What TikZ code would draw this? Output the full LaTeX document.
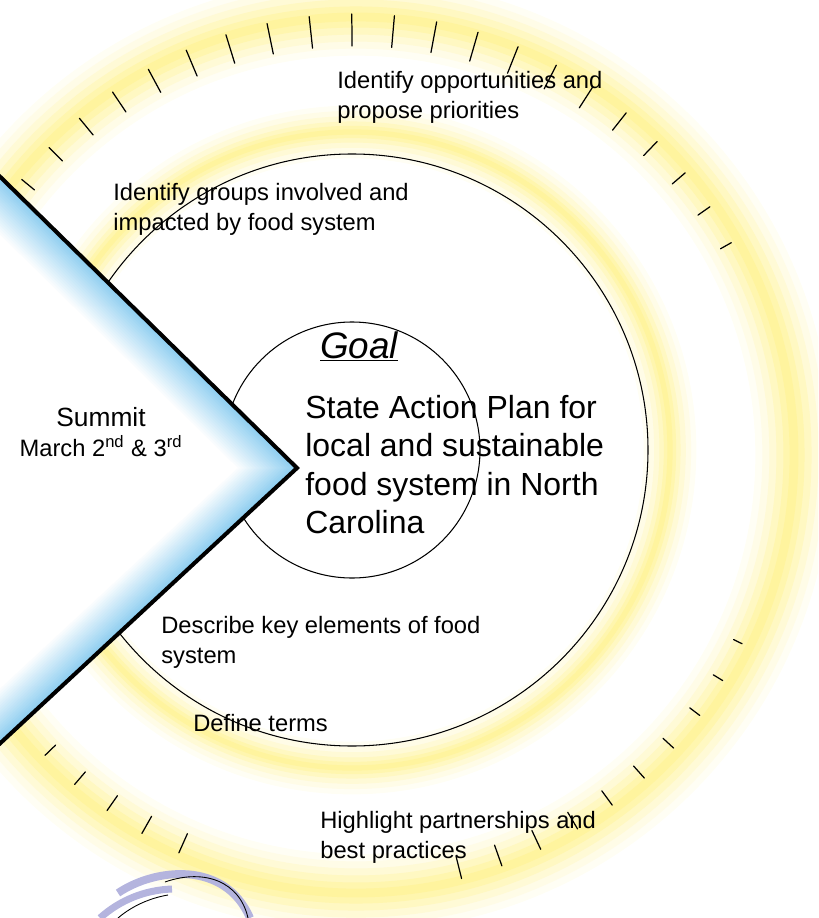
\documentclass[tikz,border=0pt]{standalone}
\usepackage{fontspec}
\setmainfont{Liberation Sans}
\usetikzlibrary{calc}

\definecolor{glow}{RGB}{255,240,120}
\definecolor{chevblue}{RGB}{140,205,240}
\definecolor{lavender}{RGB}{180,180,222}

\tikzset{
  ring/.style={draw=black, line width=0.6pt},
  tick/.style={line width=0.7pt, line cap=round},
  chevline/.style={line width=2.3pt, line join=miter},
  smalltxt/.style={font=\fontsize{13.5}{17}\selectfont, align=left, anchor=north west, inner sep=0pt},
  bigtxt/.style={font=\fontsize{18.2}{21.8}\selectfont, align=left, anchor=north west, inner sep=0pt},
}

\begin{document}
\begin{tikzpicture}[x=0.02cm,y=0.02cm]
\useasboundingbox (0,0) rectangle (818,-918);
\clip (0,0) rectangle (818,-918);
\coordinate (ctr) at (356,-455);
\coordinate (mid) at (352,-450);

% outer glow and its ticks
\foreach \w/\p in {44pt/8,36pt/18,28pt/30,20pt/45,12pt/60,5pt/72}
  \draw[glow!\p, line width=\w] (ctr) circle (438);
\foreach \a in {29.5,35.05,...,141} {
  \pgfmathsetmacro\len{6+26*sin(\a)^2}
  \draw[tick] ($(ctr)+(\a:{425-\len/2})$) -- ($(ctr)+(\a:{425+\len/2})$);
}
\foreach \a in {224,229.5,...,246.5,284,289.55,...,334.5} {
  \pgfmathsetmacro\len{6+18*sin(\a)^2}
  \draw[tick] ($(ctr)+(\a:{425-\len/2})$) -- ($(ctr)+(\a:{425+\len/2})$);
}

% inner glow and circles
\foreach \w/\p in {30pt/8,24pt/18,18pt/30,12pt/45,7pt/60,3pt/72}
  \draw[glow!\p, line width=\w] (mid) circle (318);
\draw[ring] (mid) circle (296);
\draw[ring] (mid) circle (128);

% chevron
\fill[white] (-20,-157) -- (297,-468) -- (-20,-762) -- cycle;
\begin{scope}
  \clip (-20,-157) -- (297,-468) -- (-20,-762) -- cycle;
  \foreach \h in {57,54,...,0} {
    \pgfmathsetmacro\p{100-100*\h/60}
    \draw[chevblue!\p, line width=1.5pt, line join=miter, shift={(-\h,0)}]
      (-20,-157) -- (297,-468) -- (-20,-762);
  }
\end{scope}
\draw[chevline] (-20,-157) -- (297,-468) -- (-20,-762);

% swirl at the bottom
\draw[lavender, line width=4.5pt] (118,-893) .. controls (155,-868) and (225,-860) .. (250,-918);
\draw[line width=0.5pt] (165,-882) .. controls (205,-868) and (240,-882) .. (248,-918);
\draw[lavender, line width=4pt] (100,-918) .. controls (120,-900) and (145,-890) .. (172,-889);
\draw[line width=0.5pt] (118,-918) .. controls (132,-906) and (150,-898) .. (168,-895);

% texts
\node[smalltxt] (opps) at (337,-71) {Identify opportunities and\\propose priorities};
\node[smalltxt] (groups) at (113,-183) {Identify groups involved and\\impacted by food system};
\node[font=\fontsize{21}{25}\selectfont\itshape, anchor=base, inner sep=0pt] (goal) at (359,-358) {\underline{Goal}};
\node[bigtxt] (plan) at (305,-395) {State Action Plan for\\local and sustainable\\food system in North\\Carolina};
\node[font=\fontsize{13.5}{17}\selectfont, align=center, anchor=north, inner sep=0pt] (summit) at (101,-407)
  {{\fontsize{15}{17}\selectfont Summit}\\March 2\textsuperscript{nd} \& 3\textsuperscript{rd}};
\node[smalltxt] (describe) at (161,-616) {Describe key elements of food\\system};
\node[smalltxt] (define) at (193,-714) {Define terms};
\node[smalltxt] (highlight) at (320,-811) {Highlight partnerships and\\best practices};
\end{tikzpicture}
\end{document}
